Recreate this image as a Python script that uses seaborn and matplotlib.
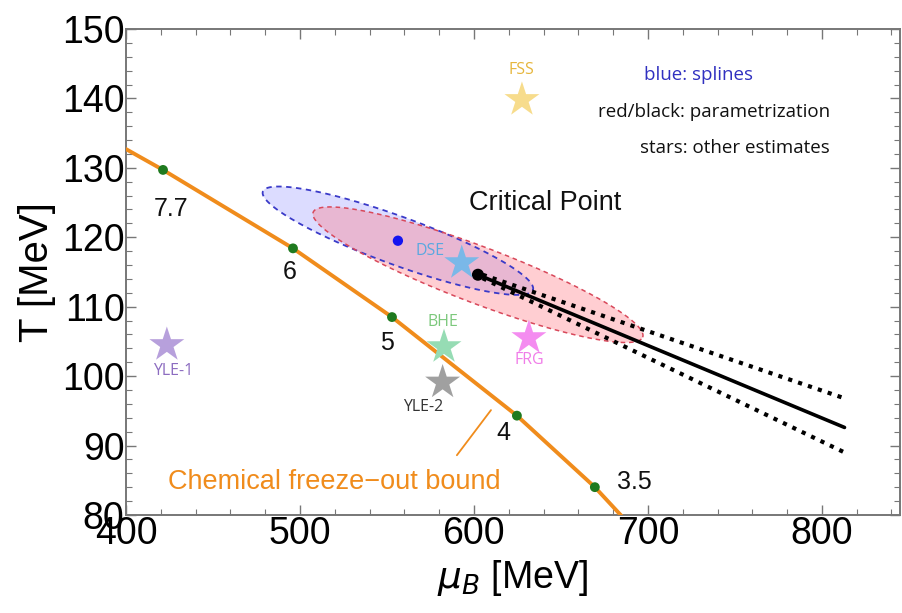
import seaborn as sns
import matplotlib.pyplot as plt
import pandas as pd
import numpy as np
from matplotlib.ticker import MultipleLocator

# chemical freeze-out curve
freeze_mu = [400, 421.3, 496, 552.9, 624.7, 669.5, 688]
freeze_T = [132.7, 129.7, 118.4, 108.5, 94.3, 84.0, 79.0]

# collision energies on the curve
energy_mu = [421.3, 496, 552.9, 624.7, 669.5]
energy_T = [129.7, 118.4, 108.5, 94.3, 84.0]
energy_lab = ['7.7', '6', '5', '4', '3.5']
energy_lab_mu = [426, 494, 550, 617, 692]
energy_lab_T = [124.0, 115.0, 104.8, 91.8, 84.7]

# other estimates (stars)
star_names = ['FSS', 'DSE', 'BHE', 'YLE-1', 'YLE-2', 'FRG']
star_mu = [627.6, 593.0, 582.8, 423.5, 582.0, 631.6]
star_T = [139.8, 116.3, 104.2, 104.5, 99.1, 105.5]
star_colors = ['#f7dc8c', '#7ab8e8', '#96dcb4', '#b7a0dc', '#a0a0a0', '#f48cf0']
label_colors = ['#e6b63c', '#5aa8e0', '#7cc87c', '#8c6cc0', '#333333', '#f07ce8']
label_mu = [627.0, 574.7, 582.0, 427.0, 570.7, 632.0]
label_T = [144.1, 118.0, 107.8, 100.7, 95.5, 102.3]

# splines (blue) and parametrization (red/black) critical point estimates
blue_center = (556.3, 119.5)
blue_major = (77.6, -7.1)
blue_minor = (4.9, 3.25)
red_center = (602.3, 114.6)
red_major = (94.7, -9.0)
red_minor = (5.8, 3.8)

line_mu = [602.3, 813]
line_T = [114.6, 92.6]
upper_mu = [605, 813]
upper_T = [114.6, 96.8]
lower_mu = [605, 813]
lower_T = [114.1, 89.0]

sns.set_style('ticks')
plt.rcParams['font.family'] = ['Liberation Sans', 'DejaVu Sans']
plt.rcParams['mathtext.fontset'] = 'dejavusans'
plt.rcParams['text.color'] = 'black'
plt.rcParams['axes.labelcolor'] = 'black'
plt.rcParams['xtick.labelcolor'] = 'black'
plt.rcParams['ytick.labelcolor'] = 'black'

fig = plt.figure(figsize=(9.03, 6.13), dpi=100)
ax = fig.add_axes([0.1395, 0.16, 0.857, 0.7927])

t = np.linspace(0, 2 * np.pi, 200)


def ellipse(c, a, b):
    x = c[0] + a[0] * np.cos(t) + b[0] * np.sin(t)
    y = c[1] + a[1] * np.cos(t) + b[1] * np.sin(t)
    return x, y


bx, by = ellipse(blue_center, blue_major, blue_minor)
rx, ry = ellipse(red_center, red_major, red_minor)
ax.fill(bx, by, color=(0.55, 0.55, 1.0), alpha=0.3, lw=0, zorder=1)
ax.fill(rx, ry, color=(1.0, 0.45, 0.5), alpha=0.35, lw=0, zorder=1)
ax.plot(bx, by, color='#3a3ac8', lw=1.3, ls=(0, (3, 2.5)), zorder=2)
ax.plot(rx, ry, color='#d8485a', lw=1.1, ls=(0, (3, 2.5)), zorder=2)

# orange curve and points
sns.lineplot(x=freeze_mu, y=freeze_T, color='#f08c1c', lw=2.8, ax=ax, sort=False, zorder=3)
sns.scatterplot(x=energy_mu, y=energy_T, color='#1f7a1f', s=50, edgecolor='none', ax=ax, zorder=4)
for m, T, lab in zip(energy_lab_mu, energy_lab_T, energy_lab):
    ax.text(m, T, lab, fontsize=18, ha='center', va='center', color='#111111', zorder=5)
ax.plot([609.8, 590.2], [95.1, 88.6], color='#f08c1c', lw=1.3, zorder=3)
ax.text(520, 84.7, 'Chemical freeze\u2212out bound', fontsize=19.5, color='#f08c1c',
        ha='center', va='center')

# critical point lines
sns.lineplot(x=upper_mu, y=upper_T, color='black', lw=3.0, ls=(0, (1, 1.5)), ax=ax, zorder=5)
sns.lineplot(x=lower_mu, y=lower_T, color='black', lw=3.0, ls=(0, (1, 1.5)), ax=ax, zorder=5)
sns.lineplot(x=line_mu, y=line_T, color='black', lw=2.6, ax=ax, zorder=6)
sns.scatterplot(x=[line_mu[0]], y=[line_T[0]], color='black', s=75, edgecolor='none', ax=ax, zorder=7)
sns.scatterplot(x=[blue_center[0]], y=[blue_center[1]], color='#1414f0', s=55, edgecolor='none', ax=ax, zorder=7)
ax.text(640.8, 124.9, 'Critical Point', fontsize=19.5, ha='center', va='center', color='#111111')

# stars
stars = pd.DataFrame({'mu': star_mu, 'T': star_T, 'name': star_names})
sns.scatterplot(data=stars, x='mu', y='T', hue='name', palette=star_colors, marker='*',
                s=700, edgecolor='none', legend=False, ax=ax, zorder=8)
for m, T, lab, c in zip(label_mu, label_T, star_names, label_colors):
    ax.text(m, T, lab, fontsize=11.5, ha='center', va='center', color=c, family='Open Sans', zorder=9)

# notes
ax.text(729.3, 143.4, 'blue: splines', fontsize=13.5, ha='center', va='center', color='#3030c0', family='Open Sans')
ax.text(737.9, 138.0, 'red/black: parametrization', fontsize=13.5, ha='center', va='center', color='#111111', family='Open Sans')
ax.text(750.0, 132.9, 'stars: other estimates', fontsize=13.5, ha='center', va='center', color='#111111', family='Open Sans')

ax.set_xlim(400, 844.8)
ax.set_ylim(80, 150)
ax.xaxis.set_major_locator(MultipleLocator(100))
ax.xaxis.set_minor_locator(MultipleLocator(20))
ax.yaxis.set_major_locator(MultipleLocator(10))
ax.yaxis.set_minor_locator(MultipleLocator(2))
ax.tick_params(which='both', direction='in', top=True, right=True, color='#777777', labelsize=27, pad=1)
ax.tick_params(which='major', length=7, width=1)
ax.tick_params(which='minor', length=4, width=0.8)
for s in ax.spines.values():
    s.set_color('#777777')
    s.set_linewidth(1.4)
ax.set_xlabel(r'$\mu_B$ [MeV]', fontsize=27, labelpad=4)
ax.set_ylabel('T [MeV]', fontsize=29, labelpad=4)

plt.savefig('out.png', dpi=100)
